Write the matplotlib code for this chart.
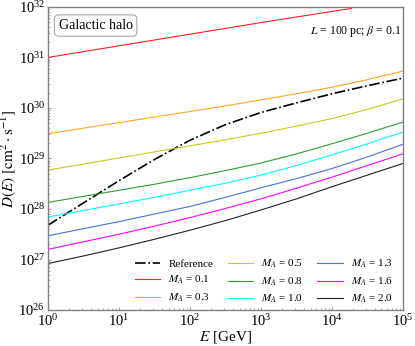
import matplotlib
matplotlib.use("Agg")
import matplotlib.pyplot as plt
import numpy as np

plt.rcParams['font.family'] = ['Liberation Serif', 'DejaVu Serif']
plt.rcParams['mathtext.fontset'] = 'stix'

# Energies (GeV), half-decade grid
E_grid = [1e0, 3.16e0, 1e1, 3.16e1, 1e2, 3.16e2, 1e3, 3.16e3, 1e4, 3.16e4, 1e5]
E_red = [1e0, 1e1, 1e2, 1e3, 1e4, 1.9e4]

# log10 of diffusion coefficient (cm^2/s)
logD_ref = [27.68, 28.12, 28.56, 28.98, 29.36, 29.67, 29.91, 30.10, 30.28, 30.44, 30.59]
logD_01 = [31.00, 31.23, 31.46, 31.69, 31.91, 31.97]
logD_03 = [29.49, 29.60, 29.71, 29.82, 29.93, 30.04, 30.16, 30.28, 30.41, 30.56, 30.73]
logD_05 = [28.77, 28.89, 29.01, 29.13, 29.25, 29.37, 29.50, 29.64, 29.79, 29.97, 30.18]
logD_08 = [28.13, 28.25, 28.37, 28.49, 28.62, 28.76, 28.91, 29.09, 29.29, 29.50, 29.72]
logD_10 = [27.84, 27.97, 28.10, 28.23, 28.37, 28.51, 28.67, 28.86, 29.07, 29.29, 29.52]
logD_13 = [27.47, 27.61, 27.75, 27.90, 28.05, 28.23, 28.42, 28.60, 28.80, 29.03, 29.28]
logD_16 = [27.20, 27.35, 27.50, 27.66, 27.83, 28.01, 28.20, 28.41, 28.63, 28.86, 29.09]
logD_20 = [26.92, 27.07, 27.23, 27.40, 27.58, 27.77, 27.98, 28.20, 28.44, 28.67, 28.90]

labels = ['Reference', '$M_A$ = 0.1', '$M_A$ = 0.3', '$M_A$ = 0.5', '$M_A$ = 0.8',
          '$M_A$ = 1.0', '$M_A$ = 1.3', '$M_A$ = 1.6', '$M_A$ = 2.0']

fig = plt.figure(figsize=(4.15, 3.46), dpi=100)
ax = fig.add_axes([0.1157, 0.104, 0.855, 0.876])

ax.plot(E_grid, 10 ** np.array(logD_ref), color='black', ls='-.', lw=1.2, label=labels[0])
series = [(E_red, logD_01, '#ff2020'), (E_grid, logD_03, '#ffa520'), (E_grid, logD_05, '#c8c81e'),
          (E_grid, logD_08, '#2ca02c'), (E_grid, logD_10, '#00ffff'), (E_grid, logD_13, '#4a72e0'),
          (E_grid, logD_16, '#ff00ff'), (E_grid, logD_20, '#222222')]
for (e, d, c), lab in zip(series, labels[1:]):
    ax.plot(e, 10 ** np.array(d), color=c, lw=0.8, label=lab)

ax.set_xscale('log')
ax.set_yscale('log')
ax.set_xlim(1, 1e5)
ax.set_ylim(1e26, 1e32)

ax.set_xlabel('$E$ [GeV]', fontsize=11, labelpad=0)
ax.set_ylabel(r'$D(E)\ [\mathrm{cm^2 \cdot s^{-1}}]$', fontsize=11, labelpad=0)
ax.tick_params(which='both', direction='in', colors='#888888', labelcolor='black', labelsize=10.5)
ax.tick_params(which='major', length=2.5, width=0.6, pad=2)
ax.tick_params(which='minor', length=1.2, width=0.5)
for s in ax.spines.values():
    s.set_color('#808080')
    s.set_linewidth(1.0)

ax.text(0.03, 0.96, 'Galactic halo', transform=ax.transAxes, fontsize=10, va='top', ha='left',
        bbox=dict(boxstyle='round,pad=0.3', fc='white', ec='#aaaaaa', lw=0.8))
ax.text(0.995, 0.945, r'$L$ = 100 pc; $\beta$ = 0.1', transform=ax.transAxes, fontsize=8.5,
        va='top', ha='right')

ax.legend(ncol=3, loc='lower right', bbox_to_anchor=(1.0, -0.018), frameon=False, fontsize=8,
          handlelength=2.3, columnspacing=1.3, labelspacing=0.45, handletextpad=0.7)

fig.savefig('out.png', dpi=100)
